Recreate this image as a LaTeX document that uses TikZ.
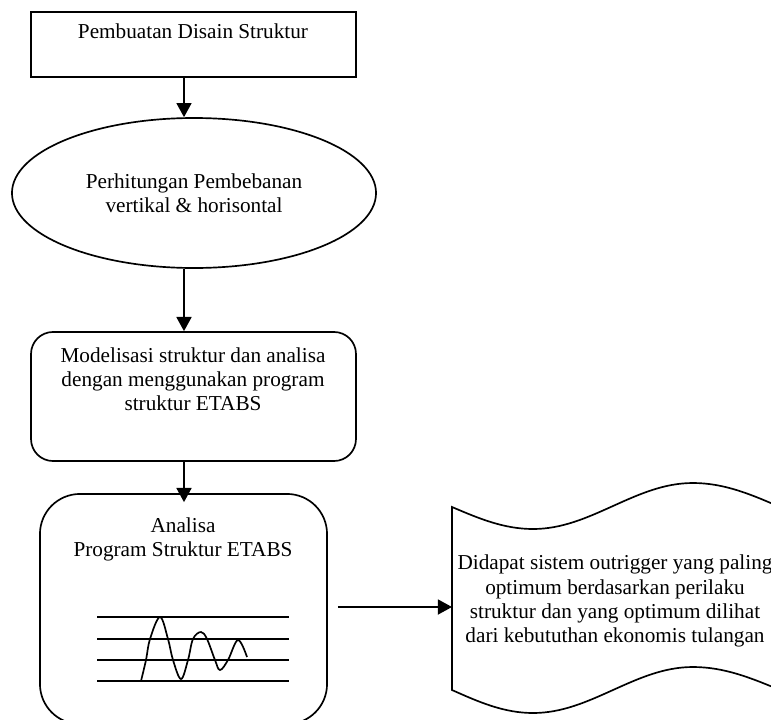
\documentclass[tikz,border=0pt]{standalone}
\usepackage{fontspec}
\setmainfont{Liberation Serif}
\usetikzlibrary{arrows.meta,shapes.geometric,calc}

\begin{document}
\begin{tikzpicture}[x=.565pt,y=-.565pt,line width=.95pt,
  font=\fontsize{12}{13.6}\selectfont,
  kotak/.style={draw,rectangle,inner sep=0pt},
  elips/.style={draw,ellipse,inner sep=0pt,align=center},
  teks/.style={align=center,inner sep=0pt},
  panah/.style={-{Triangle[length=8pt,width=8.5pt]}}]

\path[use as bounding box,clip] (0,0) rectangle (771,719);

\coordinate (ax) at (184,0);

\node[kotak,minimum width=183.6pt,minimum height=36.7pt] (desain) at (193.5,44.5) {};
\node[teks] (desainT) at (193,31) {Pembuatan Disain Struktur};

\node[elips,minimum width=205.7pt,minimum height=84.75pt] (beban) at (194,193) {Perhitungan Pembebanan\\vertikal \& horisontal};

\node[kotak,rounded corners=12.4pt,minimum width=183.6pt,minimum height=72.9pt] (model) at (193.5,396.5) {};
\node[teks] (modelT) at (193,379) {Modelisasi struktur dan analisa\\dengan menggunakan program\\struktur ETABS};

\node[kotak,rounded corners=22.6pt,minimum width=162.2pt,minimum height=130pt] (analisa) at (183.5,609) {};
\node[teks] (analisaT) at (183,539) {Analisa\\Program Struktur ETABS};

\foreach \y in {617,639,660,681}
  \draw (97,\y) -- (289,\y);
\draw plot[smooth,tension=.6] coordinates {(141,681) (146,660) (150,639) (160,617) (168,639) (173,660) (181,679) (188,660) (193,639) (201,632) (207,639) (215,660) (220,670) (228,660) (238,640) (247,657)};

\node[teks] (hasil) at (615,601) {Didapat sistem outrigger yang paling\\optimum berdasarkan perilaku\\struktur dan yang optimum dilihat\\dari kebututhan ekonomis tulangan};
\draw (452,507) sin (533,529) cos (613,506) sin (693,483) cos (780,507) -- (780,690)
  sin (693,667) cos (613,690) sin (533,713) cos (452,690) -- cycle;
\coordinate (hasilW) at (452,607);

\draw[panah] (desain.south -| ax) -- (beban.north -| ax);
\draw[panah] (beban.south -| ax) -- (model.north -| ax);
\draw[panah] (model.south -| ax) -- ($(analisa.north -| ax)+(0,9)$);
\draw[panah,shorten <=5.7pt] (analisa.east |- hasilW) -- (hasilW);

\end{tikzpicture}
\end{document}
